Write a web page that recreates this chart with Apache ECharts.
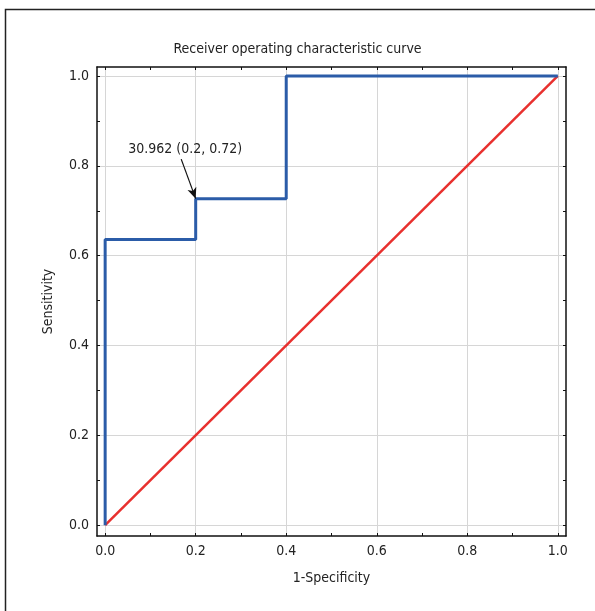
<!DOCTYPE html>
<html>
<head>
<meta charset="utf-8">
<script src="https://cdn.jsdelivr.net/npm/echarts@6/dist/echarts.min.js"></script>
<style>html,body{margin:0;padding:0;background:#fff}#c{width:595px;height:611px}</style>
</head>
<body>
<div id="c"></div>
<script>
const rocX = [0, 0, 0.2, 0.2, 0.4, 0.4, 1];
const rocY = [0, 0.636, 0.636, 0.727, 0.727, 1, 1];
const refX = [0, 1];
const refY = [0, 1];
const majorTicks = [0, 0.2, 0.4, 0.6, 0.8, 1.0];
const allTicks = [0, 0.1, 0.2, 0.3, 0.4, 0.5, 0.6, 0.7, 0.8, 0.9, 1.0];
const cutoffLabel = '30.962 (0.2, 0.72)';
const cutoffPoint = [0.2, 0.727];

const FONT = "'DejaVu Sans Condensed', 'Liberation Sans Narrow', sans-serif";
const chart = echarts.init(document.getElementById('c'), null, {renderer: 'canvas'});

function mkAxis(pos, isX, showLabel, name) {
  const a = {
    type: 'value',
    position: pos,
    min: isX ? -0.018 : -0.024,
    max: isX ? 1.018 : 1.02,
    axisLine: {show: true, onZero: false, lineStyle: {color: '#111', width: 1.5}},
    axisTick: {show: true, inside: true, length: 3, customValues: allTicks, lineStyle: {color: '#111', width: 1}},
    axisLabel: {show: showLabel, customValues: majorTicks, margin: 8, color: '#222', fontSize: 14, fontFamily: FONT,
      formatter: v => v.toFixed(1)},
    splitLine: {show: false},
    z: 10
  };
  if (name) {
    a.name = name;
    a.nameLocation = 'middle';
    a.nameGap = isX ? 35 : 42;
    a.nameTextStyle = {color: '#222', fontSize: 14, fontFamily: FONT};
  }
  return a;
}

const gridLines = [];
majorTicks.forEach(v => { gridLines.push({xAxis: v}); gridLines.push({yAxis: v}); });

chart.setOption({
  animation: false,
  backgroundColor: '#fff',
  title: {text: 'Receiver operating characteristic curve', left: 'center', top: 37,
    textStyle: {color: '#222', fontSize: 14, fontWeight: 'normal', fontFamily: FONT}},
  grid: {left: 97, right: 29, top: 67, bottom: 75},
  xAxis: [mkAxis('bottom', true, true, '1-Specificity'), mkAxis('top', true, false)],
  yAxis: [mkAxis('left', false, true, 'Sensitivity'), mkAxis('right', false, false)],
  graphic: [{type: 'rect', shape: {x: 5.5, y: 9.5, width: 640, height: 640}, style: {fill: 'none', stroke: '#222', lineWidth: 1.5}, z: 100}],
  series: [
    {
      type: 'line', name: 'grid', data: [], silent: true, z: 0,
      markLine: {silent: true, symbol: 'none', label: {show: false}, z: 0,
        lineStyle: {color: '#d6d6d6', width: 1, type: 'solid'}, data: gridLines}
    },
    {
      type: 'line', name: 'Reference', data: refX.map((x, i) => [x, refY[i]]),
      showSymbol: false, lineStyle: {color: '#e8302e', width: 2.5}, z: 3
    },
    {
      type: 'line', name: 'ROC', data: rocX.map((x, i) => [x, rocY[i]]),
      showSymbol: false, lineStyle: {color: '#2b5ca8', width: 3}, z: 4,
      markLine: {silent: true, label: {show: false}, z: 6,
        lineStyle: {color: '#111', width: 1.2, type: 'solid'},
        data: [[{coord: [0.168, 0.815], symbol: 'none'}, {coord: cutoffPoint, symbol: 'arrow', symbolSize: [7, 11]}]]},
      markPoint: {silent: true, symbol: 'circle', symbolSize: 0, z: 6,
        label: {show: true, position: 'inside', formatter: cutoffLabel, color: '#222', fontSize: 14, fontFamily: FONT},
        data: [{coord: [0.177, 0.837]}]}
    }
  ]
});
</script>
</body>
</html>
